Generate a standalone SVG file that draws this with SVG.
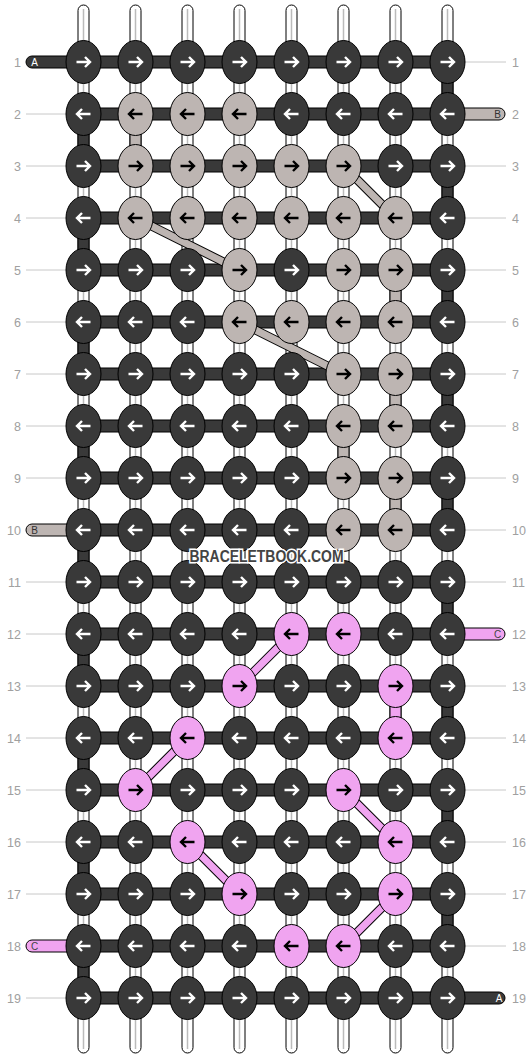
<svg xmlns="http://www.w3.org/2000/svg" width="532" height="1060" viewBox="0 0 532 1060">
<style>
.tube{fill:#fff;stroke:#000;stroke-width:1}
.tl{stroke:#bbb;stroke-width:1.5}
.bar{fill:#393939;stroke:#000;stroke-width:1}
.vd{fill:#393939;stroke:#000;stroke-width:1}
.vb{fill:#bdb5b2;stroke:#000;stroke-width:1}
.vc{fill:#f0a4f0;stroke:#000;stroke-width:1}
.dgo{stroke:#000;stroke-width:9}
.dgb{stroke:#bdb5b2;stroke-width:7}
.dgc{stroke:#f0a4f0;stroke-width:7}
.rl{stroke:#c8c8c8;stroke-width:1}
.num{font-family:"Liberation Sans",Arial,sans-serif;font-size:12.5px;fill:#a0a0a0}
.sl{font-family:"Liberation Sans",Arial,sans-serif;font-size:10px;text-anchor:middle}
ellipse{stroke:#000;stroke-width:1}
.d ellipse{fill:#393939}.d use{stroke:#fff}
.b ellipse{fill:#bdb5b2}.b use{stroke:#000}
.c ellipse{fill:#f0a4f0}.c use{stroke:#000}
.wm{font-family:"Liberation Sans",Arial,sans-serif;font-weight:bold;font-size:16px;fill:#444;stroke:#fff;stroke-width:3;paint-order:stroke;text-anchor:middle}
</style>
<defs>
<path id="R" d="M-7,0H6M1.5,-5L6.5,0L1.5,5" fill="none" stroke-width="2.4"/>
<path id="L" d="M7,0H-6M-1.5,-5L-6.5,0L-1.5,5" fill="none" stroke-width="2.4"/>
</defs>
<g id="labels">
<g class="rl">
<line x1="465" y1="62" x2="506" y2="62"/>
<line x1="26" y1="114" x2="66" y2="114"/>
<line x1="26" y1="166" x2="66" y2="166"/><line x1="465" y1="166" x2="506" y2="166"/>
<line x1="26" y1="218" x2="66" y2="218"/><line x1="465" y1="218" x2="506" y2="218"/>
<line x1="26" y1="270" x2="66" y2="270"/><line x1="465" y1="270" x2="506" y2="270"/>
<line x1="26" y1="322" x2="66" y2="322"/><line x1="465" y1="322" x2="506" y2="322"/>
<line x1="26" y1="374" x2="66" y2="374"/><line x1="465" y1="374" x2="506" y2="374"/>
<line x1="26" y1="426" x2="66" y2="426"/><line x1="465" y1="426" x2="506" y2="426"/>
<line x1="26" y1="478" x2="66" y2="478"/><line x1="465" y1="478" x2="506" y2="478"/>
<line x1="465" y1="530" x2="506" y2="530"/>
<line x1="26" y1="582" x2="66" y2="582"/><line x1="465" y1="582" x2="506" y2="582"/>
<line x1="26" y1="634" x2="66" y2="634"/>
<line x1="26" y1="686" x2="66" y2="686"/><line x1="465" y1="686" x2="506" y2="686"/>
<line x1="26" y1="738" x2="66" y2="738"/><line x1="465" y1="738" x2="506" y2="738"/>
<line x1="26" y1="790" x2="66" y2="790"/><line x1="465" y1="790" x2="506" y2="790"/>
<line x1="26" y1="842" x2="66" y2="842"/><line x1="465" y1="842" x2="506" y2="842"/>
<line x1="26" y1="894" x2="66" y2="894"/><line x1="465" y1="894" x2="506" y2="894"/>
<line x1="465" y1="946" x2="506" y2="946"/>
<line x1="26" y1="998" x2="66" y2="998"/>
</g>
<g class="num" text-anchor="end">
<text x="21" y="66.5">1</text><text x="21" y="118.5">2</text><text x="21" y="170.5">3</text><text x="21" y="222.5">4</text><text x="21" y="274.5">5</text><text x="21" y="326.5">6</text><text x="21" y="378.5">7</text><text x="21" y="430.5">8</text><text x="21" y="482.5">9</text><text x="21" y="534.5">10</text><text x="21" y="586.5">11</text><text x="21" y="638.5">12</text><text x="21" y="690.5">13</text><text x="21" y="742.5">14</text><text x="21" y="794.5">15</text><text x="21" y="846.5">16</text><text x="21" y="898.5">17</text><text x="21" y="950.5">18</text><text x="21" y="1002.5">19</text>
</g>
<g class="num" text-anchor="start">
<text x="512" y="66.5">1</text><text x="512" y="118.5">2</text><text x="512" y="170.5">3</text><text x="512" y="222.5">4</text><text x="512" y="274.5">5</text><text x="512" y="326.5">6</text><text x="512" y="378.5">7</text><text x="512" y="430.5">8</text><text x="512" y="482.5">9</text><text x="512" y="534.5">10</text><text x="512" y="586.5">11</text><text x="512" y="638.5">12</text><text x="512" y="690.5">13</text><text x="512" y="742.5">14</text><text x="512" y="794.5">15</text><text x="512" y="846.5">16</text><text x="512" y="898.5">17</text><text x="512" y="950.5">18</text><text x="512" y="1002.5">19</text>
</g>
</g>
<g id="connectors">
<g id="tubes">
<rect class="tube" x="78" y="5" width="11" height="1048" rx="5.5"/><line class="tl" x1="83.5" y1="9" x2="83.5" y2="1049"/>
<rect class="tube" x="130" y="5" width="11" height="1048" rx="5.5"/><line class="tl" x1="135.5" y1="9" x2="135.5" y2="1049"/>
<rect class="tube" x="182" y="5" width="11" height="1048" rx="5.5"/><line class="tl" x1="187.5" y1="9" x2="187.5" y2="1049"/>
<rect class="tube" x="234" y="5" width="11" height="1048" rx="5.5"/><line class="tl" x1="239.5" y1="9" x2="239.5" y2="1049"/>
<rect class="tube" x="286" y="5" width="11" height="1048" rx="5.5"/><line class="tl" x1="291.5" y1="9" x2="291.5" y2="1049"/>
<rect class="tube" x="338" y="5" width="11" height="1048" rx="5.5"/><line class="tl" x1="343.5" y1="9" x2="343.5" y2="1049"/>
<rect class="tube" x="390" y="5" width="11" height="1048" rx="5.5"/><line class="tl" x1="395.5" y1="9" x2="395.5" y2="1049"/>
<rect class="tube" x="442" y="5" width="11" height="1048" rx="5.5"/><line class="tl" x1="447.5" y1="9" x2="447.5" y2="1049"/>
</g>
<g id="vertical">
<rect class="vd" x="442" y="62" width="11" height="52"/><rect class="vd" x="442" y="166" width="11" height="52"/><rect class="vd" x="442" y="270" width="11" height="52"/><rect class="vd" x="442" y="374" width="11" height="52"/><rect class="vd" x="442" y="478" width="11" height="52"/><rect class="vd" x="442" y="582" width="11" height="52"/><rect class="vd" x="442" y="686" width="11" height="52"/><rect class="vd" x="442" y="790" width="11" height="52"/><rect class="vd" x="442" y="894" width="11" height="52"/>
<rect class="vd" x="78" y="114" width="11" height="52"/><rect class="vd" x="78" y="218" width="11" height="52"/><rect class="vd" x="78" y="322" width="11" height="52"/><rect class="vd" x="78" y="426" width="11" height="52"/><rect class="vd" x="78" y="530" width="11" height="52"/><rect class="vd" x="78" y="634" width="11" height="52"/><rect class="vd" x="78" y="738" width="11" height="52"/><rect class="vd" x="78" y="842" width="11" height="52"/><rect class="vd" x="78" y="946" width="11" height="52"/>
<rect class="vb" x="130" y="114" width="11" height="52"/><rect class="vb" x="390" y="270" width="11" height="52"/><rect class="vb" x="390" y="374" width="11" height="52"/><rect class="vb" x="338" y="426" width="11" height="52"/><rect class="vb" x="390" y="478" width="11" height="52"/>
<rect class="vc" x="390" y="686" width="11" height="52"/>
</g>
<g id="horizontal">
<rect class="bar" x="83.5" y="56" width="364" height="12"/>
<rect class="bar" x="83.5" y="108" width="364" height="12"/>
<rect class="bar" x="83.5" y="160" width="364" height="12"/>
<rect class="bar" x="83.5" y="212" width="364" height="12"/>
<rect class="bar" x="83.5" y="264" width="364" height="12"/>
<rect class="bar" x="83.5" y="316" width="364" height="12"/>
<rect class="bar" x="83.5" y="368" width="364" height="12"/>
<rect class="bar" x="83.5" y="420" width="364" height="12"/>
<rect class="bar" x="83.5" y="472" width="364" height="12"/>
<rect class="bar" x="83.5" y="524" width="364" height="12"/>
<rect class="bar" x="83.5" y="576" width="364" height="12"/>
<rect class="bar" x="83.5" y="628" width="364" height="12"/>
<rect class="bar" x="83.5" y="680" width="364" height="12"/>
<rect class="bar" x="83.5" y="732" width="364" height="12"/>
<rect class="bar" x="83.5" y="784" width="364" height="12"/>
<rect class="bar" x="83.5" y="836" width="364" height="12"/>
<rect class="bar" x="83.5" y="888" width="364" height="12"/>
<rect class="bar" x="83.5" y="940" width="364" height="12"/>
<rect class="bar" x="83.5" y="992" width="364" height="12"/>
</g>
<g id="ends">
<path class="bar" d="M90,56H32A6,6 0 0 0 32,68H90Z"/>
<path class="vb" d="M440,108H499A6,6 0 0 1 499,120H440Z"/>
<path class="vb" d="M90,524H32A6,6 0 0 0 32,536H90Z"/>
<path class="vc" d="M440,628H499A6,6 0 0 1 499,640H440Z"/>
<path class="vc" d="M90,940H32A6,6 0 0 0 32,952H90Z"/>
<path class="bar" d="M440,992H499A6,6 0 0 1 499,1004H440Z"/>
<text class="sl" x="34.5" y="65.5" fill="#fff">A</text>
<text class="sl" x="497.5" y="117.5" fill="#333">B</text>
<text class="sl" x="34.5" y="533.5" fill="#333">B</text>
<text class="sl" x="497.5" y="637.5" fill="#444">C</text>
<text class="sl" x="34.5" y="949.5" fill="#444">C</text>
<text class="sl" x="499" y="1001.5" fill="#fff">A</text>
</g>
<g id="diagonals">
<g class="dgo">
<line x1="343.5" y1="166" x2="395.5" y2="218"/><line x1="135.5" y1="218" x2="239.5" y2="270"/><line x1="239.5" y1="322" x2="343.5" y2="374"/>
<line x1="291.5" y1="634" x2="239.5" y2="686"/><line x1="187.5" y1="738" x2="135.5" y2="790"/><line x1="343.5" y1="790" x2="395.5" y2="842"/><line x1="187.5" y1="842" x2="239.5" y2="894"/><line x1="395.5" y1="894" x2="343.5" y2="946"/>
</g>
<g class="dgb">
<line x1="343.5" y1="166" x2="395.5" y2="218"/><line x1="135.5" y1="218" x2="239.5" y2="270"/><line x1="239.5" y1="322" x2="343.5" y2="374"/>
</g>
<g class="dgc">
<line x1="291.5" y1="634" x2="239.5" y2="686"/><line x1="187.5" y1="738" x2="135.5" y2="790"/><line x1="343.5" y1="790" x2="395.5" y2="842"/><line x1="187.5" y1="842" x2="239.5" y2="894"/><line x1="395.5" y1="894" x2="343.5" y2="946"/>
</g>
</g>
</g>
<g id="nodes">
<g id="r1c1" class="d"><ellipse cx="83.5" cy="62" rx="17.5" ry="21.5"/><use href="#R" x="83.5" y="62"/></g>
<g id="r1c2" class="d"><ellipse cx="135.5" cy="62" rx="17.5" ry="21.5"/><use href="#R" x="135.5" y="62"/></g>
<g id="r1c3" class="d"><ellipse cx="187.5" cy="62" rx="17.5" ry="21.5"/><use href="#R" x="187.5" y="62"/></g>
<g id="r1c4" class="d"><ellipse cx="239.5" cy="62" rx="17.5" ry="21.5"/><use href="#R" x="239.5" y="62"/></g>
<g id="r1c5" class="d"><ellipse cx="291.5" cy="62" rx="17.5" ry="21.5"/><use href="#R" x="291.5" y="62"/></g>
<g id="r1c6" class="d"><ellipse cx="343.5" cy="62" rx="17.5" ry="21.5"/><use href="#R" x="343.5" y="62"/></g>
<g id="r1c7" class="d"><ellipse cx="395.5" cy="62" rx="17.5" ry="21.5"/><use href="#R" x="395.5" y="62"/></g>
<g id="r1c8" class="d"><ellipse cx="447.5" cy="62" rx="17.5" ry="21.5"/><use href="#R" x="447.5" y="62"/></g>
<g id="r2c1" class="d"><ellipse cx="83.5" cy="114" rx="17.5" ry="21.5"/><use href="#L" x="83.5" y="114"/></g>
<g id="r2c2" class="b"><ellipse cx="135.5" cy="114" rx="17.5" ry="21.5"/><use href="#L" x="135.5" y="114"/></g>
<g id="r2c3" class="b"><ellipse cx="187.5" cy="114" rx="17.5" ry="21.5"/><use href="#L" x="187.5" y="114"/></g>
<g id="r2c4" class="b"><ellipse cx="239.5" cy="114" rx="17.5" ry="21.5"/><use href="#L" x="239.5" y="114"/></g>
<g id="r2c5" class="d"><ellipse cx="291.5" cy="114" rx="17.5" ry="21.5"/><use href="#L" x="291.5" y="114"/></g>
<g id="r2c6" class="d"><ellipse cx="343.5" cy="114" rx="17.5" ry="21.5"/><use href="#L" x="343.5" y="114"/></g>
<g id="r2c7" class="d"><ellipse cx="395.5" cy="114" rx="17.5" ry="21.5"/><use href="#L" x="395.5" y="114"/></g>
<g id="r2c8" class="d"><ellipse cx="447.5" cy="114" rx="17.5" ry="21.5"/><use href="#L" x="447.5" y="114"/></g>
<g id="r3c1" class="d"><ellipse cx="83.5" cy="166" rx="17.5" ry="21.5"/><use href="#R" x="83.5" y="166"/></g>
<g id="r3c2" class="b"><ellipse cx="135.5" cy="166" rx="17.5" ry="21.5"/><use href="#R" x="135.5" y="166"/></g>
<g id="r3c3" class="b"><ellipse cx="187.5" cy="166" rx="17.5" ry="21.5"/><use href="#R" x="187.5" y="166"/></g>
<g id="r3c4" class="b"><ellipse cx="239.5" cy="166" rx="17.5" ry="21.5"/><use href="#R" x="239.5" y="166"/></g>
<g id="r3c5" class="b"><ellipse cx="291.5" cy="166" rx="17.5" ry="21.5"/><use href="#R" x="291.5" y="166"/></g>
<g id="r3c6" class="b"><ellipse cx="343.5" cy="166" rx="17.5" ry="21.5"/><use href="#R" x="343.5" y="166"/></g>
<g id="r3c7" class="d"><ellipse cx="395.5" cy="166" rx="17.5" ry="21.5"/><use href="#R" x="395.5" y="166"/></g>
<g id="r3c8" class="d"><ellipse cx="447.5" cy="166" rx="17.5" ry="21.5"/><use href="#R" x="447.5" y="166"/></g>
<g id="r4c1" class="d"><ellipse cx="83.5" cy="218" rx="17.5" ry="21.5"/><use href="#L" x="83.5" y="218"/></g>
<g id="r4c2" class="b"><ellipse cx="135.5" cy="218" rx="17.5" ry="21.5"/><use href="#L" x="135.5" y="218"/></g>
<g id="r4c3" class="b"><ellipse cx="187.5" cy="218" rx="17.5" ry="21.5"/><use href="#L" x="187.5" y="218"/></g>
<g id="r4c4" class="b"><ellipse cx="239.5" cy="218" rx="17.5" ry="21.5"/><use href="#L" x="239.5" y="218"/></g>
<g id="r4c5" class="b"><ellipse cx="291.5" cy="218" rx="17.5" ry="21.5"/><use href="#L" x="291.5" y="218"/></g>
<g id="r4c6" class="b"><ellipse cx="343.5" cy="218" rx="17.5" ry="21.5"/><use href="#L" x="343.5" y="218"/></g>
<g id="r4c7" class="b"><ellipse cx="395.5" cy="218" rx="17.5" ry="21.5"/><use href="#L" x="395.5" y="218"/></g>
<g id="r4c8" class="d"><ellipse cx="447.5" cy="218" rx="17.5" ry="21.5"/><use href="#L" x="447.5" y="218"/></g>
<g id="r5c1" class="d"><ellipse cx="83.5" cy="270" rx="17.5" ry="21.5"/><use href="#R" x="83.5" y="270"/></g>
<g id="r5c2" class="d"><ellipse cx="135.5" cy="270" rx="17.5" ry="21.5"/><use href="#R" x="135.5" y="270"/></g>
<g id="r5c3" class="d"><ellipse cx="187.5" cy="270" rx="17.5" ry="21.5"/><use href="#R" x="187.5" y="270"/></g>
<g id="r5c4" class="b"><ellipse cx="239.5" cy="270" rx="17.5" ry="21.5"/><use href="#R" x="239.5" y="270"/></g>
<g id="r5c5" class="d"><ellipse cx="291.5" cy="270" rx="17.5" ry="21.5"/><use href="#R" x="291.5" y="270"/></g>
<g id="r5c6" class="b"><ellipse cx="343.5" cy="270" rx="17.5" ry="21.5"/><use href="#R" x="343.5" y="270"/></g>
<g id="r5c7" class="b"><ellipse cx="395.5" cy="270" rx="17.5" ry="21.5"/><use href="#R" x="395.5" y="270"/></g>
<g id="r5c8" class="d"><ellipse cx="447.5" cy="270" rx="17.5" ry="21.5"/><use href="#R" x="447.5" y="270"/></g>
<g id="r6c1" class="d"><ellipse cx="83.5" cy="322" rx="17.5" ry="21.5"/><use href="#L" x="83.5" y="322"/></g>
<g id="r6c2" class="d"><ellipse cx="135.5" cy="322" rx="17.5" ry="21.5"/><use href="#L" x="135.5" y="322"/></g>
<g id="r6c3" class="d"><ellipse cx="187.5" cy="322" rx="17.5" ry="21.5"/><use href="#L" x="187.5" y="322"/></g>
<g id="r6c4" class="b"><ellipse cx="239.5" cy="322" rx="17.5" ry="21.5"/><use href="#L" x="239.5" y="322"/></g>
<g id="r6c5" class="b"><ellipse cx="291.5" cy="322" rx="17.5" ry="21.5"/><use href="#L" x="291.5" y="322"/></g>
<g id="r6c6" class="b"><ellipse cx="343.5" cy="322" rx="17.5" ry="21.5"/><use href="#L" x="343.5" y="322"/></g>
<g id="r6c7" class="b"><ellipse cx="395.5" cy="322" rx="17.5" ry="21.5"/><use href="#L" x="395.5" y="322"/></g>
<g id="r6c8" class="d"><ellipse cx="447.5" cy="322" rx="17.5" ry="21.5"/><use href="#L" x="447.5" y="322"/></g>
<g id="r7c1" class="d"><ellipse cx="83.5" cy="374" rx="17.5" ry="21.5"/><use href="#R" x="83.5" y="374"/></g>
<g id="r7c2" class="d"><ellipse cx="135.5" cy="374" rx="17.5" ry="21.5"/><use href="#R" x="135.5" y="374"/></g>
<g id="r7c3" class="d"><ellipse cx="187.5" cy="374" rx="17.5" ry="21.5"/><use href="#R" x="187.5" y="374"/></g>
<g id="r7c4" class="d"><ellipse cx="239.5" cy="374" rx="17.5" ry="21.5"/><use href="#R" x="239.5" y="374"/></g>
<g id="r7c5" class="d"><ellipse cx="291.5" cy="374" rx="17.5" ry="21.5"/><use href="#R" x="291.5" y="374"/></g>
<g id="r7c6" class="b"><ellipse cx="343.5" cy="374" rx="17.5" ry="21.5"/><use href="#R" x="343.5" y="374"/></g>
<g id="r7c7" class="b"><ellipse cx="395.5" cy="374" rx="17.5" ry="21.5"/><use href="#R" x="395.5" y="374"/></g>
<g id="r7c8" class="d"><ellipse cx="447.5" cy="374" rx="17.5" ry="21.5"/><use href="#R" x="447.5" y="374"/></g>
<g id="r8c1" class="d"><ellipse cx="83.5" cy="426" rx="17.5" ry="21.5"/><use href="#L" x="83.5" y="426"/></g>
<g id="r8c2" class="d"><ellipse cx="135.5" cy="426" rx="17.5" ry="21.5"/><use href="#L" x="135.5" y="426"/></g>
<g id="r8c3" class="d"><ellipse cx="187.5" cy="426" rx="17.5" ry="21.5"/><use href="#L" x="187.5" y="426"/></g>
<g id="r8c4" class="d"><ellipse cx="239.5" cy="426" rx="17.5" ry="21.5"/><use href="#L" x="239.5" y="426"/></g>
<g id="r8c5" class="d"><ellipse cx="291.5" cy="426" rx="17.5" ry="21.5"/><use href="#L" x="291.5" y="426"/></g>
<g id="r8c6" class="b"><ellipse cx="343.5" cy="426" rx="17.5" ry="21.5"/><use href="#L" x="343.5" y="426"/></g>
<g id="r8c7" class="b"><ellipse cx="395.5" cy="426" rx="17.5" ry="21.5"/><use href="#L" x="395.5" y="426"/></g>
<g id="r8c8" class="d"><ellipse cx="447.5" cy="426" rx="17.5" ry="21.5"/><use href="#L" x="447.5" y="426"/></g>
<g id="r9c1" class="d"><ellipse cx="83.5" cy="478" rx="17.5" ry="21.5"/><use href="#R" x="83.5" y="478"/></g>
<g id="r9c2" class="d"><ellipse cx="135.5" cy="478" rx="17.5" ry="21.5"/><use href="#R" x="135.5" y="478"/></g>
<g id="r9c3" class="d"><ellipse cx="187.5" cy="478" rx="17.5" ry="21.5"/><use href="#R" x="187.5" y="478"/></g>
<g id="r9c4" class="d"><ellipse cx="239.5" cy="478" rx="17.5" ry="21.5"/><use href="#R" x="239.5" y="478"/></g>
<g id="r9c5" class="d"><ellipse cx="291.5" cy="478" rx="17.5" ry="21.5"/><use href="#R" x="291.5" y="478"/></g>
<g id="r9c6" class="b"><ellipse cx="343.5" cy="478" rx="17.5" ry="21.5"/><use href="#R" x="343.5" y="478"/></g>
<g id="r9c7" class="b"><ellipse cx="395.5" cy="478" rx="17.5" ry="21.5"/><use href="#R" x="395.5" y="478"/></g>
<g id="r9c8" class="d"><ellipse cx="447.5" cy="478" rx="17.5" ry="21.5"/><use href="#R" x="447.5" y="478"/></g>
<g id="r10c1" class="d"><ellipse cx="83.5" cy="530" rx="17.5" ry="21.5"/><use href="#L" x="83.5" y="530"/></g>
<g id="r10c2" class="d"><ellipse cx="135.5" cy="530" rx="17.5" ry="21.5"/><use href="#L" x="135.5" y="530"/></g>
<g id="r10c3" class="d"><ellipse cx="187.5" cy="530" rx="17.5" ry="21.5"/><use href="#L" x="187.5" y="530"/></g>
<g id="r10c4" class="d"><ellipse cx="239.5" cy="530" rx="17.5" ry="21.5"/><use href="#L" x="239.5" y="530"/></g>
<g id="r10c5" class="d"><ellipse cx="291.5" cy="530" rx="17.5" ry="21.5"/><use href="#L" x="291.5" y="530"/></g>
<g id="r10c6" class="b"><ellipse cx="343.5" cy="530" rx="17.5" ry="21.5"/><use href="#L" x="343.5" y="530"/></g>
<g id="r10c7" class="b"><ellipse cx="395.5" cy="530" rx="17.5" ry="21.5"/><use href="#L" x="395.5" y="530"/></g>
<g id="r10c8" class="d"><ellipse cx="447.5" cy="530" rx="17.5" ry="21.5"/><use href="#L" x="447.5" y="530"/></g>
<g id="r11c1" class="d"><ellipse cx="83.5" cy="582" rx="17.5" ry="21.5"/><use href="#R" x="83.5" y="582"/></g>
<g id="r11c2" class="d"><ellipse cx="135.5" cy="582" rx="17.5" ry="21.5"/><use href="#R" x="135.5" y="582"/></g>
<g id="r11c3" class="d"><ellipse cx="187.5" cy="582" rx="17.5" ry="21.5"/><use href="#R" x="187.5" y="582"/></g>
<g id="r11c4" class="d"><ellipse cx="239.5" cy="582" rx="17.5" ry="21.5"/><use href="#R" x="239.5" y="582"/></g>
<g id="r11c5" class="d"><ellipse cx="291.5" cy="582" rx="17.5" ry="21.5"/><use href="#R" x="291.5" y="582"/></g>
<g id="r11c6" class="d"><ellipse cx="343.5" cy="582" rx="17.5" ry="21.5"/><use href="#R" x="343.5" y="582"/></g>
<g id="r11c7" class="d"><ellipse cx="395.5" cy="582" rx="17.5" ry="21.5"/><use href="#R" x="395.5" y="582"/></g>
<g id="r11c8" class="d"><ellipse cx="447.5" cy="582" rx="17.5" ry="21.5"/><use href="#R" x="447.5" y="582"/></g>
<g id="r12c1" class="d"><ellipse cx="83.5" cy="634" rx="17.5" ry="21.5"/><use href="#L" x="83.5" y="634"/></g>
<g id="r12c2" class="d"><ellipse cx="135.5" cy="634" rx="17.5" ry="21.5"/><use href="#L" x="135.5" y="634"/></g>
<g id="r12c3" class="d"><ellipse cx="187.5" cy="634" rx="17.5" ry="21.5"/><use href="#L" x="187.5" y="634"/></g>
<g id="r12c4" class="d"><ellipse cx="239.5" cy="634" rx="17.5" ry="21.5"/><use href="#L" x="239.5" y="634"/></g>
<g id="r12c5" class="c"><ellipse cx="291.5" cy="634" rx="17.5" ry="21.5"/><use href="#L" x="291.5" y="634"/></g>
<g id="r12c6" class="c"><ellipse cx="343.5" cy="634" rx="17.5" ry="21.5"/><use href="#L" x="343.5" y="634"/></g>
<g id="r12c7" class="d"><ellipse cx="395.5" cy="634" rx="17.5" ry="21.5"/><use href="#L" x="395.5" y="634"/></g>
<g id="r12c8" class="d"><ellipse cx="447.5" cy="634" rx="17.5" ry="21.5"/><use href="#L" x="447.5" y="634"/></g>
<g id="r13c1" class="d"><ellipse cx="83.5" cy="686" rx="17.5" ry="21.5"/><use href="#R" x="83.5" y="686"/></g>
<g id="r13c2" class="d"><ellipse cx="135.5" cy="686" rx="17.5" ry="21.5"/><use href="#R" x="135.5" y="686"/></g>
<g id="r13c3" class="d"><ellipse cx="187.5" cy="686" rx="17.5" ry="21.5"/><use href="#R" x="187.5" y="686"/></g>
<g id="r13c4" class="c"><ellipse cx="239.5" cy="686" rx="17.5" ry="21.5"/><use href="#R" x="239.5" y="686"/></g>
<g id="r13c5" class="d"><ellipse cx="291.5" cy="686" rx="17.5" ry="21.5"/><use href="#R" x="291.5" y="686"/></g>
<g id="r13c6" class="d"><ellipse cx="343.5" cy="686" rx="17.5" ry="21.5"/><use href="#R" x="343.5" y="686"/></g>
<g id="r13c7" class="c"><ellipse cx="395.5" cy="686" rx="17.5" ry="21.5"/><use href="#R" x="395.5" y="686"/></g>
<g id="r13c8" class="d"><ellipse cx="447.5" cy="686" rx="17.5" ry="21.5"/><use href="#R" x="447.5" y="686"/></g>
<g id="r14c1" class="d"><ellipse cx="83.5" cy="738" rx="17.5" ry="21.5"/><use href="#L" x="83.5" y="738"/></g>
<g id="r14c2" class="d"><ellipse cx="135.5" cy="738" rx="17.5" ry="21.5"/><use href="#L" x="135.5" y="738"/></g>
<g id="r14c3" class="c"><ellipse cx="187.5" cy="738" rx="17.5" ry="21.5"/><use href="#L" x="187.5" y="738"/></g>
<g id="r14c4" class="d"><ellipse cx="239.5" cy="738" rx="17.5" ry="21.5"/><use href="#L" x="239.5" y="738"/></g>
<g id="r14c5" class="d"><ellipse cx="291.5" cy="738" rx="17.5" ry="21.5"/><use href="#L" x="291.5" y="738"/></g>
<g id="r14c6" class="d"><ellipse cx="343.5" cy="738" rx="17.5" ry="21.5"/><use href="#L" x="343.5" y="738"/></g>
<g id="r14c7" class="c"><ellipse cx="395.5" cy="738" rx="17.5" ry="21.5"/><use href="#L" x="395.5" y="738"/></g>
<g id="r14c8" class="d"><ellipse cx="447.5" cy="738" rx="17.5" ry="21.5"/><use href="#L" x="447.5" y="738"/></g>
<g id="r15c1" class="d"><ellipse cx="83.5" cy="790" rx="17.5" ry="21.5"/><use href="#R" x="83.5" y="790"/></g>
<g id="r15c2" class="c"><ellipse cx="135.5" cy="790" rx="17.5" ry="21.5"/><use href="#R" x="135.5" y="790"/></g>
<g id="r15c3" class="d"><ellipse cx="187.5" cy="790" rx="17.5" ry="21.5"/><use href="#R" x="187.5" y="790"/></g>
<g id="r15c4" class="d"><ellipse cx="239.5" cy="790" rx="17.5" ry="21.5"/><use href="#R" x="239.5" y="790"/></g>
<g id="r15c5" class="d"><ellipse cx="291.5" cy="790" rx="17.5" ry="21.5"/><use href="#R" x="291.5" y="790"/></g>
<g id="r15c6" class="c"><ellipse cx="343.5" cy="790" rx="17.5" ry="21.5"/><use href="#R" x="343.5" y="790"/></g>
<g id="r15c7" class="d"><ellipse cx="395.5" cy="790" rx="17.5" ry="21.5"/><use href="#R" x="395.5" y="790"/></g>
<g id="r15c8" class="d"><ellipse cx="447.5" cy="790" rx="17.5" ry="21.5"/><use href="#R" x="447.5" y="790"/></g>
<g id="r16c1" class="d"><ellipse cx="83.5" cy="842" rx="17.5" ry="21.5"/><use href="#L" x="83.5" y="842"/></g>
<g id="r16c2" class="d"><ellipse cx="135.5" cy="842" rx="17.5" ry="21.5"/><use href="#L" x="135.5" y="842"/></g>
<g id="r16c3" class="c"><ellipse cx="187.5" cy="842" rx="17.5" ry="21.5"/><use href="#L" x="187.5" y="842"/></g>
<g id="r16c4" class="d"><ellipse cx="239.5" cy="842" rx="17.5" ry="21.5"/><use href="#L" x="239.5" y="842"/></g>
<g id="r16c5" class="d"><ellipse cx="291.5" cy="842" rx="17.5" ry="21.5"/><use href="#L" x="291.5" y="842"/></g>
<g id="r16c6" class="d"><ellipse cx="343.5" cy="842" rx="17.5" ry="21.5"/><use href="#L" x="343.5" y="842"/></g>
<g id="r16c7" class="c"><ellipse cx="395.5" cy="842" rx="17.5" ry="21.5"/><use href="#L" x="395.5" y="842"/></g>
<g id="r16c8" class="d"><ellipse cx="447.5" cy="842" rx="17.5" ry="21.5"/><use href="#L" x="447.5" y="842"/></g>
<g id="r17c1" class="d"><ellipse cx="83.5" cy="894" rx="17.5" ry="21.5"/><use href="#R" x="83.5" y="894"/></g>
<g id="r17c2" class="d"><ellipse cx="135.5" cy="894" rx="17.5" ry="21.5"/><use href="#R" x="135.5" y="894"/></g>
<g id="r17c3" class="d"><ellipse cx="187.5" cy="894" rx="17.5" ry="21.5"/><use href="#R" x="187.5" y="894"/></g>
<g id="r17c4" class="c"><ellipse cx="239.5" cy="894" rx="17.5" ry="21.5"/><use href="#R" x="239.5" y="894"/></g>
<g id="r17c5" class="d"><ellipse cx="291.5" cy="894" rx="17.5" ry="21.5"/><use href="#R" x="291.5" y="894"/></g>
<g id="r17c6" class="d"><ellipse cx="343.5" cy="894" rx="17.5" ry="21.5"/><use href="#R" x="343.5" y="894"/></g>
<g id="r17c7" class="c"><ellipse cx="395.5" cy="894" rx="17.5" ry="21.5"/><use href="#R" x="395.5" y="894"/></g>
<g id="r17c8" class="d"><ellipse cx="447.5" cy="894" rx="17.5" ry="21.5"/><use href="#R" x="447.5" y="894"/></g>
<g id="r18c1" class="d"><ellipse cx="83.5" cy="946" rx="17.5" ry="21.5"/><use href="#L" x="83.5" y="946"/></g>
<g id="r18c2" class="d"><ellipse cx="135.5" cy="946" rx="17.5" ry="21.5"/><use href="#L" x="135.5" y="946"/></g>
<g id="r18c3" class="d"><ellipse cx="187.5" cy="946" rx="17.5" ry="21.5"/><use href="#L" x="187.5" y="946"/></g>
<g id="r18c4" class="d"><ellipse cx="239.5" cy="946" rx="17.5" ry="21.5"/><use href="#L" x="239.5" y="946"/></g>
<g id="r18c5" class="c"><ellipse cx="291.5" cy="946" rx="17.5" ry="21.5"/><use href="#L" x="291.5" y="946"/></g>
<g id="r18c6" class="c"><ellipse cx="343.5" cy="946" rx="17.5" ry="21.5"/><use href="#L" x="343.5" y="946"/></g>
<g id="r18c7" class="d"><ellipse cx="395.5" cy="946" rx="17.5" ry="21.5"/><use href="#L" x="395.5" y="946"/></g>
<g id="r18c8" class="d"><ellipse cx="447.5" cy="946" rx="17.5" ry="21.5"/><use href="#L" x="447.5" y="946"/></g>
<g id="r19c1" class="d"><ellipse cx="83.5" cy="998" rx="17.5" ry="21.5"/><use href="#R" x="83.5" y="998"/></g>
<g id="r19c2" class="d"><ellipse cx="135.5" cy="998" rx="17.5" ry="21.5"/><use href="#R" x="135.5" y="998"/></g>
<g id="r19c3" class="d"><ellipse cx="187.5" cy="998" rx="17.5" ry="21.5"/><use href="#R" x="187.5" y="998"/></g>
<g id="r19c4" class="d"><ellipse cx="239.5" cy="998" rx="17.5" ry="21.5"/><use href="#R" x="239.5" y="998"/></g>
<g id="r19c5" class="d"><ellipse cx="291.5" cy="998" rx="17.5" ry="21.5"/><use href="#R" x="291.5" y="998"/></g>
<g id="r19c6" class="d"><ellipse cx="343.5" cy="998" rx="17.5" ry="21.5"/><use href="#R" x="343.5" y="998"/></g>
<g id="r19c7" class="d"><ellipse cx="395.5" cy="998" rx="17.5" ry="21.5"/><use href="#R" x="395.5" y="998"/></g>
<g id="r19c8" class="d"><ellipse cx="447.5" cy="998" rx="17.5" ry="21.5"/><use href="#R" x="447.5" y="998"/></g>
</g>
<text class="wm" x="266.5" y="562" textLength="154" lengthAdjust="spacingAndGlyphs">BRACELETBOOK.COM</text>
</svg>
